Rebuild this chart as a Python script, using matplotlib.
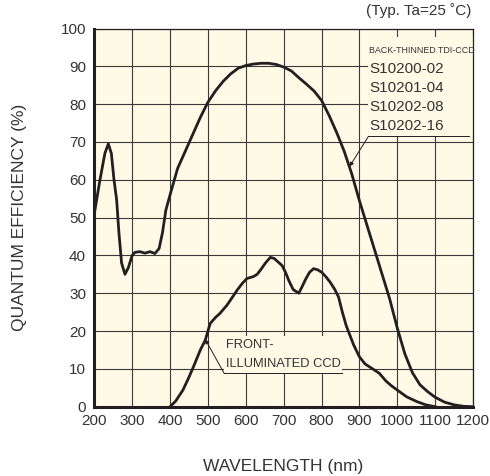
import matplotlib
matplotlib.use("Agg")
import matplotlib.pyplot as plt
from matplotlib.patches import Rectangle

plt.rcParams['font.family'] = ['Liberation Sans', 'DejaVu Sans']

# Back-thinned TDI-CCD
bt_wl = [200, 215, 228, 237, 245, 252, 259, 265, 272, 281, 290, 300, 307, 320, 334,
         347, 360, 371, 380, 389, 400, 420, 440, 460, 480, 500, 520, 540, 560, 580,
         600, 620, 640, 660, 680, 700, 720, 740, 760, 780, 800, 820, 840, 860, 880,
         900, 920, 940, 960, 980, 1000, 1020, 1040, 1060, 1080, 1100, 1125, 1150,
         1175, 1200]
bt_qe = [51, 60, 67, 69.5, 67, 60, 54.7, 46, 38, 35, 36.8, 40, 40.8, 41, 40.6,
         41, 40.5, 41.8, 46, 52, 56, 63, 67.5, 72, 76.5, 80.5, 83.5, 86, 88, 89.5,
         90.2, 90.6, 90.8, 90.8, 90.5, 89.8, 88.8, 87, 85.3, 83.5, 81, 77, 72.5, 67.5, 61.5,
         54.5, 48, 41.5, 35, 28.5, 20.8, 14, 9, 5.8, 4, 2.5, 1.2, 0.5,
         0.1, 0]

# Front-illuminated CCD
fi_wl = [400, 415, 434, 450, 462, 480, 493, 506, 520, 532, 550, 565, 577, 590, 603,
         620, 630, 640, 652, 665, 675, 685, 696, 705, 713, 725, 740, 750, 757, 768,
         779, 790, 801, 812, 823, 835, 845, 855, 865, 873, 885, 900, 915, 935, 953,
         970, 985, 1000, 1025, 1053, 1075, 1100]
fi_qe = [0, 1.5, 4.4, 7.8, 10.6, 15, 17.6, 22, 23.6, 24.7, 26.8, 29, 30.8, 32.5, 33.9,
         34.4, 35, 36.3, 38, 39.5, 39.2, 38.3, 37.3, 35.5, 33.5, 31, 30, 32, 33.5, 35.5,
         36.5, 36.2, 35.5, 34.3, 32.9, 31, 29, 25, 21.5, 19.4, 16.3, 13.2, 11.3, 10, 8.8,
         6.8, 5.5, 4.4, 2.6, 1.3, 0.5, 0]

x_ticks = [200, 300, 400, 500, 600, 700, 800, 900, 1000, 1100, 1200]
y_ticks = [0, 10, 20, 30, 40, 50, 60, 70, 80, 90, 100]
bt_names = ["S10200-02", "S10201-04", "S10202-08", "S10202-16"]

cream = "#FFFAE6"
ink = "#231F20"
txt = "#333333"

fig = plt.figure(figsize=(4.90, 4.76), dpi=100)
ax = fig.add_axes([94.3 / 490, 1 - 406.7 / 476, (473 - 94.3) / 490, (406.7 - 28.5) / 476])
ax.set_facecolor(cream)
ax.set_xlim(200, 1200)
ax.set_ylim(0, 100)
ax.set_xticks(x_ticks)
ax.set_yticks(y_ticks)
ax.tick_params(length=0, labelsize=11, colors=txt)
ax.tick_params(axis='x', pad=5)
ax.tick_params(axis='y', pad=6)
ax.set_axisbelow(True)
ax.grid(True, color="#3a3a3a", linewidth=0.8)

for s in ['left', 'bottom']:
    ax.spines[s].set_linewidth(2.2)
    ax.spines[s].set_color(ink)
for s in ['top', 'right']:
    ax.spines[s].set_linewidth(0.9)
    ax.spines[s].set_color(ink)

# label backgrounds (hide grid)
ax.add_patch(Rectangle((922, 71.5), 278, 26.3, facecolor=cream, edgecolor='none', zorder=1))
ax.add_patch(Rectangle((543, 8.8), 311, 10.0, facecolor=cream, edgecolor='none', zorder=1))

ax.plot(bt_wl, bt_qe, color=ink, linewidth=2.0, zorder=3)
ax.plot(fi_wl, fi_qe, color=ink, linewidth=2.0, zorder=3)

# back-thinned labels
ax.text(926, 94.2, "BACK-THINNED TDI-CCD", fontsize=6.4, color=txt, va='center', ha='left',
        zorder=4)
for i, nm in enumerate(bt_names):
    ax.text(926, 89.4 - 5.05 * i, nm, fontsize=11, color=txt, va='center', ha='left', zorder=4)
ax.plot([924, 1189], [71.5, 71.5], color=ink, linewidth=0.7, zorder=4)
ax.annotate("", xy=(874, 63.5), xytext=(924, 71.5),
            arrowprops=dict(arrowstyle='-|>', color=ink, lw=0.7, mutation_scale=6,
                            shrinkA=0, shrinkB=0), zorder=4)

# front-illuminated labels
ax.text(549, 16.4, "FRONT-", fontsize=9.3, color=txt, va='center', ha='left', zorder=4)
ax.text(549, 11.3, "ILLUMINATED CCD", fontsize=9.3, color=txt, va='center', ha='left', zorder=4)
ax.plot([543, 854], [8.8, 8.8], color=ink, linewidth=0.7, zorder=4)
ax.annotate("", xy=(493, 17.8), xytext=(543, 8.8),
            arrowprops=dict(arrowstyle='-|>', color=ink, lw=0.7, mutation_scale=6,
                            shrinkA=0, shrinkB=0), zorder=4)

fig.text(471 / 490, 1 - 11 / 476, "(Typ. Ta=25 \u02daC)", fontsize=11, color=txt,
         ha='right', va='center')
fig.text(20 / 490, 1 - 217.6 / 476, "QUANTUM EFFICIENCY (%)", fontsize=12.5, color=txt,
         rotation=90, ha='center', va='center')
fig.text(283.6 / 490, 1 - 466 / 476, "WAVELENGTH (nm)", fontsize=12.5, color=txt,
         ha='center', va='center')

fig.savefig("out.png", dpi=100)
